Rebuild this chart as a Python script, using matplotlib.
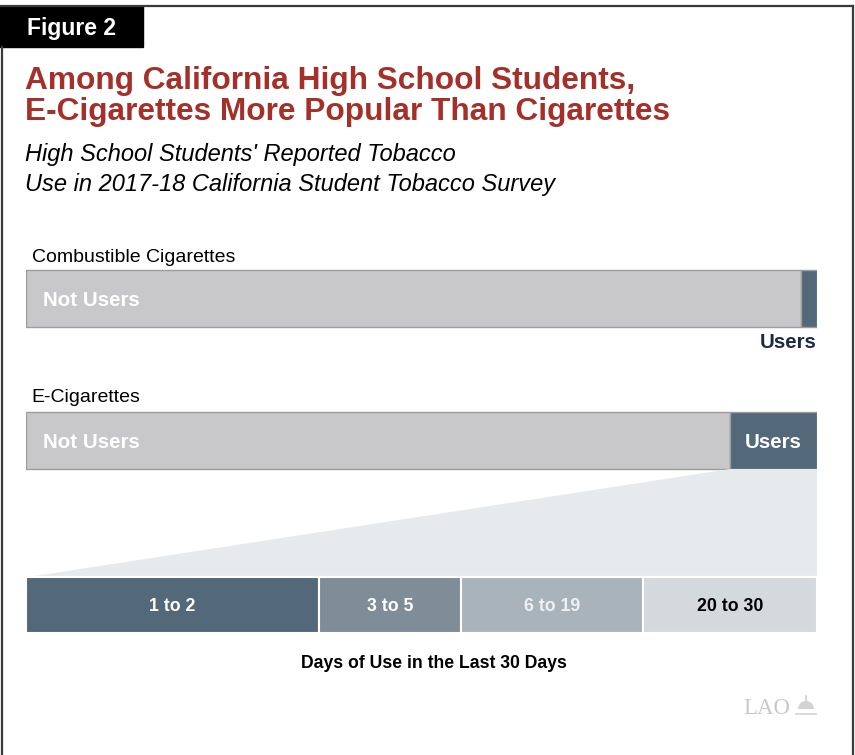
import matplotlib.pyplot as plt
from matplotlib.patches import Polygon, Rectangle, Wedge
import numpy as np

plt.rcParams['font.family'] = ['Liberation Sans', 'DejaVu Sans']

# share of high school students (%)
products = ['Combustible Cigarettes', 'E-Cigarettes']
users_pct = [2, 11]

# e-cigarette users broken out by days of use in the last 30 days (%)
day_bins = ['1 to 2', '3 to 5', '6 to 19', '20 to 30']
day_pct = [37, 18, 23, 22]

W, H = 855, 755
fig = plt.figure(figsize=(W / 100, H / 100), dpi=100)


def fpos(x, y):
    return x / W, 1 - y / H


# frame around the figure
frame = fig.add_axes([0, 0, 1, 1])
frame.set_xlim(0, W)
frame.set_ylim(H, 0)
frame.axis('off')
frame.plot([0, 853], [6, 6], color='#3a3a3a', lw=1.6)
frame.plot([853, 853], [6, H], color='#3a3a3a', lw=1.6)
frame.plot([1.5, 1.5], [47, H], color='#3a3a3a', lw=1.6)
frame.add_patch(Rectangle((0, 6), 143, 41, color='black'))
fig.text(*fpos(27, 29), 'Figure 2', color='white', fontsize=16.5, fontweight='bold', va='center')

fig.text(*fpos(25, 81), 'Among California High School Students,', color='#a5302a',
         fontsize=22.8, fontweight='bold', va='center')
fig.text(*fpos(25, 112), 'E-Cigarettes More Popular Than Cigarettes', color='#a5302a',
         fontsize=22.8, fontweight='bold', va='center')
fig.text(*fpos(25, 155), "High School Students' Reported Tobacco", color='black',
         fontsize=17, style='italic', va='center')
fig.text(*fpos(25, 184), 'Use in 2017-18 California Student Tobacco Survey', color='black',
         fontsize=17, style='italic', va='center')

# logo: text plus a small capitol dome
fig.text(*fpos(767, 708), 'LAO', family=['Liberation Serif', 'DejaVu Serif'], fontsize=16.5,
         color='#c9c9c9', ha='center', va='center')
frame.add_patch(Wedge((806, 709), 8, 180, 360, color='#d2d2d2', lw=0))
frame.plot([796, 816], [713.5, 713.5], color='#d2d2d2', lw=1.2)
frame.plot([798, 814], [710.5, 710.5], color='white', lw=0.8)
frame.plot([806, 806], [696, 701], color='#d2d2d2', lw=1.2)

# bar area: x in percent, y in pixels
ax = fig.add_axes([26 / W, 0, 791 / W, 1])
ax.set_xlim(0, 100)
ax.set_ylim(H, 0)
ax.axis('off')

not_color = '#c8c8ca'
user_color = '#536878'
bar_y = [298.5, 440.5]
label_y = [257, 398]

for name, u, yc, ly in zip(products, users_pct, bar_y, label_y):
    ax.barh(yc, 100 - u, height=57, left=0, color=not_color, edgecolor='#9c9c9c', lw=1)
    ax.barh(yc, u, height=57, left=100 - u, color=user_color, edgecolor='#9c9c9c', lw=1)
    ax.text(0.7, ly, name, fontsize=14, va='center', ha='left')
    ax.text(2.2, yc + 1.5, 'Not Users', color='white', fontsize=14.8, fontweight='bold', va='center')

ax.text(100, 342, 'Users', color='#1c2b45', fontsize=14.8, fontweight='bold', va='center', ha='right')
ax.text(100 - users_pct[1] / 2, bar_y[1] + 1.5, 'Users', color='white', fontsize=14.8,
        fontweight='bold', va='center', ha='center')

# wedge linking e-cigarette users to the breakdown bar
ax.add_patch(Polygon([(100 - users_pct[1], 469), (100, 469), (100, 577), (0.25, 577)],
                     closed=True, color='#e7eaed', lw=0))

seg_colors = ['#536878', '#7f8d99', '#a9b3bb', '#d4d9dd']
text_colors = ['white', 'white', '#eef1f3', 'black']
lefts = np.concatenate([[0], np.cumsum(day_pct)[:-1]])
ax.barh(605, day_pct, height=56, left=lefts, color=seg_colors, edgecolor='white', lw=1.5)
for lab, l, w, tc in zip(day_bins, lefts, day_pct, text_colors):
    ax.text(l + w / 2, 606.5, lab, color=tc, fontsize=12.8, fontweight='bold', va='center', ha='center')

fig.text(*fpos(434, 663.5), 'Days of Use in the Last 30 Days', fontsize=12.7,
         fontweight='bold', ha='center', va='center')

fig.savefig('out.png', dpi=100)
